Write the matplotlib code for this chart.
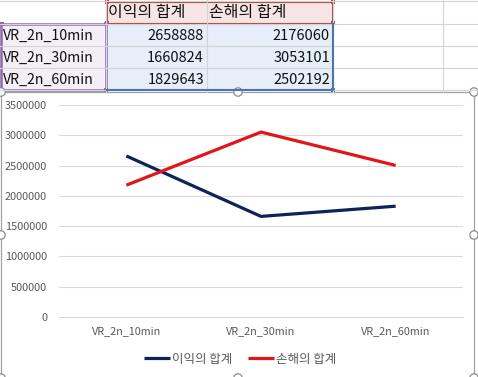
import matplotlib.pyplot as plt
from matplotlib.patches import Rectangle, Circle

plt.rcParams['font.family'] = ['Noto Sans CJK KR', 'DejaVu Sans']

# data
categories = ["VR_2n_10min", "VR_2n_30min", "VR_2n_60min"]
series_names = ["이익의 합계", "손해의 합계"]
profit = [2658888, 1660824, 1829643]
loss = [2176060, 3053101, 2502192]
y_ticks = [0, 500000, 1000000, 1500000, 2000000, 2500000, 3000000, 3500000]

NAVY = "#0e2456"
RED = "#e0161b"
W, H = 478, 377

fig = plt.figure(figsize=(W / 100, H / 100), dpi=100)

# background axes in pixel coords (spreadsheet + chart frame)
bg = fig.add_axes([0, 0, 1, 1])
bg.set_xlim(0, W)
bg.set_ylim(H, 0)
bg.axis("off")

col_x = [0, 106, 207, 333, 443]
row_y = [1, 24, 46, 68, 90]

# cell fills
bg.add_patch(Rectangle((106, 1), 227, 23, facecolor="#f7e4e4", edgecolor="none"))
bg.add_patch(Rectangle((0, 24), 106, 66, facecolor="#f4eef6", edgecolor="none"))
bg.add_patch(Rectangle((106, 24), 227, 66, facecolor="#e6eef9", edgecolor="none"))

# sheet grid lines
for x in col_x[1:]:
    bg.plot([x, x], [0, 92], color="#d4d4d4", lw=0.8)
for y in row_y:
    bg.plot([0, W], [y, y], color="#d4d4d4", lw=0.8)

# range highlight borders
bg.add_patch(Rectangle((107, 1.5), 226, 22.5, facecolor="none", edgecolor="#b9474a", lw=1.5))
bg.add_patch(Rectangle((1.5, 24), 104.5, 66, facecolor="none", edgecolor="#8b6aaa", lw=1.8))
bg.plot([333, 333, 107], [24, 89.5, 89.5], color="#4a74b2", lw=1.5)
for (hx, hy, c) in [(107, 1.5, "#b9474a"), (333, 1.5, "#b9474a"), (107, 23, "#b9474a"),
                    (333, 23, "#b9474a"), (2, 24, "#8b6aaa"), (106, 24, "#8b6aaa"),
                    (106, 89.5, "#8b6aaa"), (333, 89.5, "#4a74b2")]:
    bg.add_patch(Rectangle((hx - 2, hy - 2), 4, 4, facecolor=c, edgecolor="none"))

# table text
for i, name in enumerate(series_names):
    bg.text(col_x[i + 1] + 2, 13, name, fontsize=11.5, color="#111111", ha="left", va="center")
for r, cat in enumerate(categories):
    yc = (row_y[r + 1] + row_y[r + 2]) / 2 + 0.5
    bg.text(3, yc, cat, fontsize=10.2, color="#111111", ha="left", va="center")
    bg.text(204, yc, str(profit[r]), fontsize=10.5, color="#111111", ha="right", va="center")
    bg.text(330, yc, str(loss[r]), fontsize=10.5, color="#111111", ha="right", va="center")

# chart frame
bg.add_patch(Rectangle((1, 92), 473, 290, facecolor="white", edgecolor="#a0a0a0", lw=0.9))
for (cx, cy) in [(1, 92), (238, 92), (474, 92), (1, 235), (474, 235),
                 (1, 378), (238, 378), (474, 378)]:
    bg.add_patch(Circle((cx, cy), 4.2, facecolor="white", edgecolor="#8c8c8c", lw=0.9))

# plot area
ax = fig.add_axes([59 / W, (H - 317) / H, 404 / W, 212 / H])
ax.patch.set_alpha(0)
x = range(len(categories))
ax.plot(x, profit, color=NAVY, lw=2.3, label=series_names[0], solid_capstyle="butt")
ax.plot(x, loss, color=RED, lw=2.3, label=series_names[1], solid_capstyle="butt")

ax.set_xlim(-0.5, len(categories) - 0.5)
ax.set_ylim(0, 3500000)
ax.set_yticks(y_ticks)
ax.set_yticklabels([str(v) for v in y_ticks])
ax.set_xticks(list(x))
ax.set_xticklabels(categories)
ax.grid(axis="y", color="#d9d9d9", lw=0.8)
ax.set_axisbelow(True)
for s in ["top", "right", "left"]:
    ax.spines[s].set_visible(False)
ax.spines["bottom"].set_color("#d9d9d9")
ax.spines["bottom"].set_linewidth(0.8)
ax.tick_params(axis="y", length=0, pad=8.5, labelsize=7.9, labelcolor="#595959")
ax.tick_params(axis="x", length=0, pad=6.5, labelsize=7.8, labelcolor="#595959")

fig.legend(loc="center", bbox_to_anchor=(240 / W, 1 - 359 / H), ncol=2, frameon=False,
           fontsize=9, labelcolor="#595959", handlelength=2.1, handletextpad=0.15,
           columnspacing=1.3)

fig.savefig("out.png", dpi=100)
